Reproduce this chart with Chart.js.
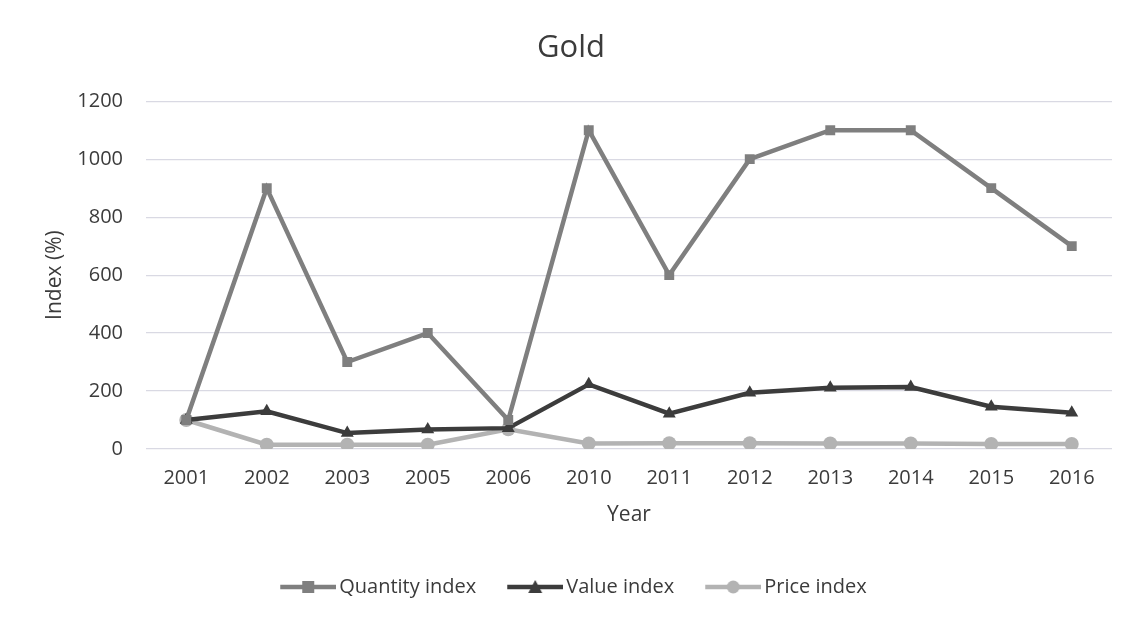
<!DOCTYPE html>
<html lang="en">
<head>
    <meta charset="UTF-8">
    <title>Gold</title>
    <script src="https://cdn.jsdelivr.net/npm/chart.js"></script>
    <style>
        html, body { margin: 0; padding: 0; background: #ffffff; }
        #goldChart { display: block; }
    </style>
</head>
<body>
<canvas id="goldChart" width="1140" height="620"></canvas>

<script>
    // years on the x axis (2004, 2007-2009 not reported)
    const years = ['2001', '2002', '2003', '2005', '2006', '2010', '2011', '2012', '2013', '2014', '2015', '2016'];

    // index values in %
    const quantityIndex = [100, 900, 300, 400, 100, 1100, 600, 1000, 1100, 1100, 900, 700];
    const valueIndex    = [100, 130, 55, 67, 72, 223, 122, 194, 211, 214, 146, 125];
    const priceIndex    = [100, 15, 15, 15, 68, 19, 20, 20, 19, 19, 17, 17];

    const yTicks = [0, 200, 400, 600, 800, 1000, 1200];

    const FONT = "'Open Sans', 'Noto Sans', sans-serif";
    const TEXT = '#3b3b3b';

    // line + marker icon for the legend; the icon sits at the right end of the
    // canvas so the left part only adds spacing between legend items
    const ICON_W = 68;
    function legendIcon(color, shape) {
        const c = document.createElement('canvas');
        c.width = ICON_W;
        c.height = 16;
        const g = c.getContext('2d');
        const x0 = ICON_W - 56;
        const cx = x0 + 28;
        g.strokeStyle = color;
        g.fillStyle = color;
        g.lineWidth = 4.5;
        g.beginPath();
        g.moveTo(x0, 8);
        g.lineTo(ICON_W, 8);
        g.stroke();
        g.beginPath();
        if (shape === 'rect') {
            g.rect(cx - 6, 2, 12, 12);
        } else if (shape === 'triangle') {
            g.moveTo(cx, 1);
            g.lineTo(cx + 7, 14);
            g.lineTo(cx - 7, 14);
            g.closePath();
        } else {
            g.arc(cx, 8, 6.5, 0, Math.PI * 2);
        }
        g.fill();
        return c;
    }

    const series = [
        { label: 'Quantity index', data: quantityIndex, color: '#7f7f7f', shape: 'rect', r: 7 },
        { label: 'Value index', data: valueIndex, color: '#3c3c3c', shape: 'triangle', r: 7.5 },
        { label: 'Price index', data: priceIndex, color: '#b3b3b3', shape: 'circle', r: 7 }
    ];

    const ctx = document.getElementById('goldChart').getContext('2d');

    const goldChart = new Chart(ctx, {
        type: 'line',
        data: {
            labels: years,
            datasets: series.map(s => ({
                label: s.label,
                data: s.data,
                borderColor: s.color,
                backgroundColor: s.color,
                borderWidth: 4.5,
                pointStyle: s.shape,
                pointRadius: s.r,
                pointBorderWidth: 0,
                pointBackgroundColor: s.color,
                tension: 0,
                fill: false,
                legendIcon: legendIcon(s.color, s.shape)
            }))
        },
        options: {
            responsive: false,
            animation: false,
            layout: {
                padding: { top: 14, left: 30, right: 28, bottom: 13 }
            },
            plugins: {
                title: {
                    display: true,
                    text: 'Gold',
                    color: TEXT,
                    font: { family: FONT, size: 31, weight: 'normal' },
                    padding: { top: 16, bottom: 34 }
                },
                legend: {
                    position: 'bottom',
                    labels: {
                        color: TEXT,
                        font: { family: FONT, size: 20 },
                        usePointStyle: true,
                        pointStyleWidth: 54,
                        boxHeight: 16,
                        padding: 26,
                        generateLabels: chart => chart.data.datasets.map((ds, i) => ({
                            text: ds.label,
                            pointStyle: ds.legendIcon,
                            fillStyle: ds.borderColor,
                            strokeStyle: ds.borderColor,
                            lineWidth: 0,
                            fontColor: TEXT,
                            datasetIndex: i,
                            hidden: false
                        }))
                    }
                },
                tooltip: { enabled: false }
            },
            scales: {
                x: {
                    offset: true,
                    afterFit: axis => { axis.height = 102; },
                    grid: { display: false, drawTicks: false },
                    border: { display: false },
                    ticks: {
                        color: TEXT,
                        padding: 17,
                        maxRotation: 0,
                        font: { family: FONT, size: 20 }
                    },
                    title: {
                        display: true,
                        text: 'Year',
                        color: TEXT,
                        font: { family: FONT, size: 21 },
                        padding: { top: 12, bottom: 23 }
                    }
                },
                y: {
                    min: 0,
                    max: 1200,
                    afterFit: axis => { axis.width = 116; },
                    afterBuildTicks: axis => {
                        axis.ticks = yTicks.map(v => ({ value: v }));
                    },
                    grid: {
                        color: '#d9d9e3',
                        lineWidth: 1.2,
                        drawTicks: false
                    },
                    border: { display: false },
                    ticks: {
                        color: TEXT,
                        padding: 23,
                        font: { family: FONT, size: 20 },
                        callback: v => String(v)
                    },
                    title: {
                        display: true,
                        text: 'Index (%)',
                        color: TEXT,
                        font: { family: FONT, size: 21 },
                        padding: { top: 12, bottom: 9 }
                    }
                }
            }
        }
    });
</script>
</body>
</html>
